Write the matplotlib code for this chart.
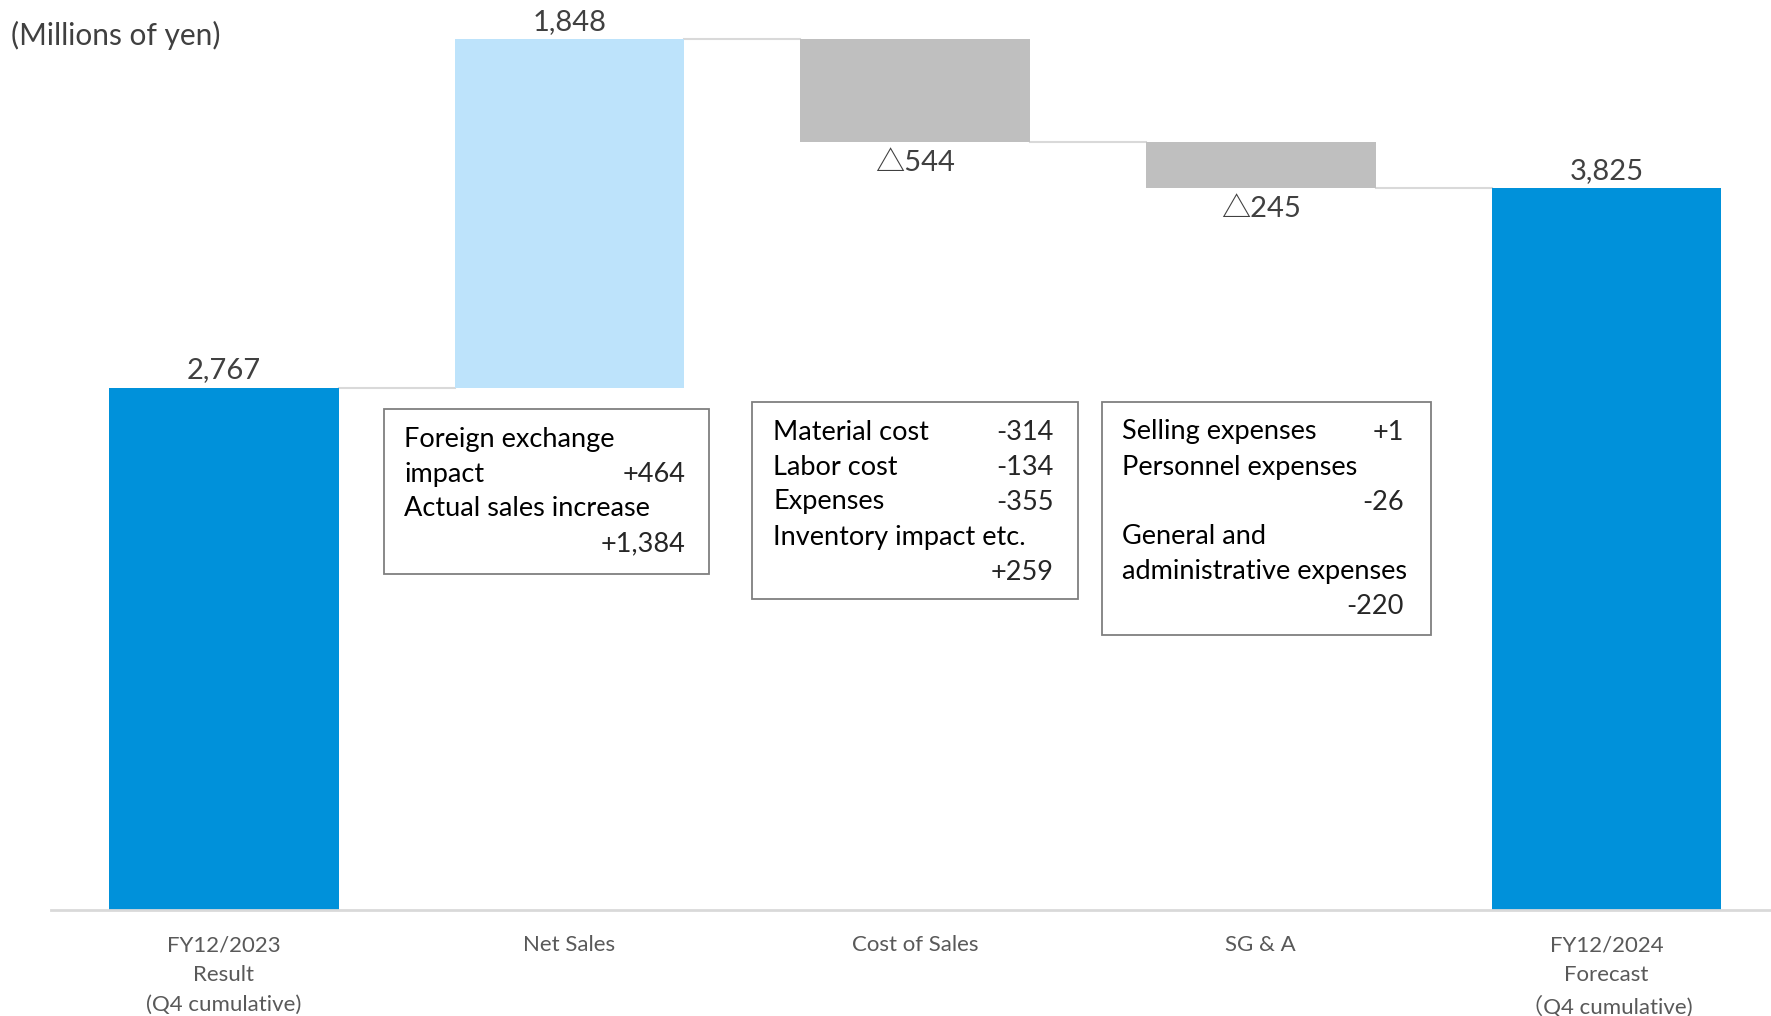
"""
Operating profit bridge FY12/2023 result -> FY12/2024 forecast (waterfall)
"""

import matplotlib.pyplot as plt
from matplotlib.patches import Rectangle

plt.rcParams['font.family'] = ['Lato', 'Noto Sans CJK JP', 'DejaVu Sans']

categories = ["FY12/2023\nResult\n(Q4 cumulative)", "Net Sales", "Cost of Sales",
              "SG & A", "FY12/2024\nForecast\n\uff08Q4 cumulative)"]
start_value = 2767
changes = [1848, -544, -245]
end_value = 3825
value_labels = ["2,767", "1,848", "\u25b3544", "\u25b3245", "3,825"]

box_lines = [
    [("Foreign exchange", ""), ("impact", "+464"),
     ("Actual sales increase", ""), ("", "+1,384")],
    [("Material cost", "-314"), ("Labor cost", "-134"), ("Expenses", "-355"),
     ("Inventory impact etc.", ""), ("", "+259")],
    [("Selling expenses", "+1"), ("Personnel expenses", ""), ("", "-26"),
     ("General and", ""), ("administrative expenses", ""), ("", "-220")],
]

dark_blue = '#0091da'
light_blue = '#bde3fb'
grey = '#bfbfbf'
line_grey = '#d9d9d9'

W, H = 1771, 1016
fig = plt.figure(figsize=(W / 100, H / 100), dpi=100)
ax = fig.add_axes([51 / W, 106 / H, 1 - 51 / W, 910 / H])

# bar bottoms and heights from the running total
bottoms, heights, colors = [0], [start_value], [dark_blue]
level = start_value
for c in changes:
    if c >= 0:
        bottoms.append(level)
        heights.append(c)
        colors.append(light_blue)
    else:
        bottoms.append(level + c)
        heights.append(-c)
        colors.append(grey)
    level += c
bottoms.append(0)
heights.append(end_value)
colors.append(dark_blue)

x = list(range(len(categories)))
width = 0.665
ax.bar(x, heights, bottom=bottoms, width=width, color=colors, zorder=2)

# connector lines between bars
levels = [start_value]
for c in changes:
    levels.append(levels[-1] + c)
for i, lv in enumerate(levels):
    ax.plot([i + width / 2, i + 1 - width / 2], [lv, lv], color=line_grey, lw=1.5, zorder=1)

# value labels
for i in range(len(categories)):
    top = bottoms[i] + heights[i]
    if i in (2, 3):
        ax.annotate(value_labels[i], (i, bottoms[i]), xytext=(0, -15), textcoords='offset points',
                    ha='center', va='center', fontsize=21, color='#404040')
    else:
        ax.annotate(value_labels[i], (i, top), xytext=(0, 12.5), textcoords='offset points',
                    ha='center', va='center', fontsize=21, color='#404040')

ax.set_xlim(-0.5, 4.476)
ax.set_ylim(0, 4822)
ax.set_xticks(x)
ax.set_xticklabels(categories, fontsize=16, color='#595959', linespacing=1.62)
ax.tick_params(axis='x', length=0, pad=18)
ax.set_yticks([])
for s in ['top', 'right', 'left']:
    ax.spines[s].set_visible(False)
ax.spines['bottom'].set_color(line_grey)
ax.spines['bottom'].set_linewidth(2)

fig.text(11 / W, 1 - 35 / H, "(Millions of yen)", fontsize=21.5, color='#404040', va='center')

# explanation boxes (pixel layout)
boxes = [
    (384, 409, 709, 574, 404, 686, 439),
    (752, 402, 1078, 599, 773, 1054, 432),
    (1102, 402, 1431, 635, 1122, 1404, 432),
]
for (x0, y0, x1, y1, tl, tr, ty), lines in zip(boxes, box_lines):
    fig.patches.append(Rectangle((x0 / W, 1 - y1 / H), (x1 - x0) / W, (y1 - y0) / H,
                                 transform=fig.transFigure, fill=False,
                                 edgecolor='#7f7f7f', lw=1.3))
    for k, (left, right) in enumerate(lines):
        yy = 1 - (ty + k * 35) / H
        if left:
            fig.text(tl / W, yy, left, fontsize=19.5, color='black', va='center', ha='left')
        if right:
            fig.text(tr / W, yy, right, fontsize=19.5, color='#262626', va='center', ha='right')

plt.savefig('out.png', dpi=100)
